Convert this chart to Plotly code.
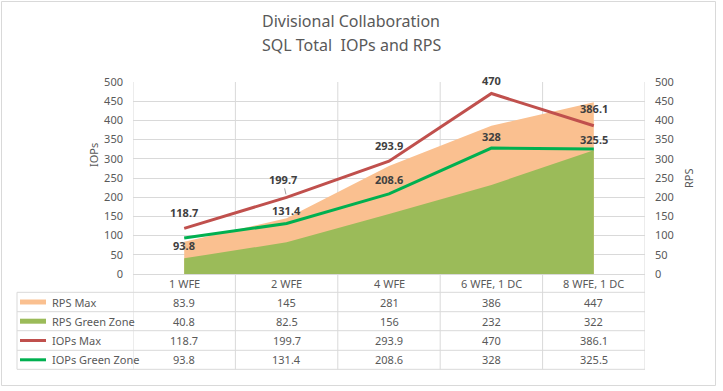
import plotly.graph_objects as go

categories = ["1 WFE", "2 WFE", "4 WFE", "6 WFE, 1 DC", "8 WFE, 1 DC"]
rps_max = [83.9, 145, 281, 386, 447]
rps_green = [40.8, 82.5, 156, 232, 322]
iops_max = [118.7, 199.7, 293.9, 470, 386.1]
iops_green = [93.8, 131.4, 208.6, 328, 325.5]
y_ticks = [0, 50, 100, 150, 200, 250, 300, 350, 400, 450, 500]
title_lines = ["Divisional Collaboration", "SQL Total  IOPs and RPS"]

W, H = 723, 391
L, R, T, B = 133, 645, 82, 274
FONT = "Noto Sans"
GRID = "#d9d9d9"
TXT = "#595959"

def xp(px):
    return (px - L) / (R - L)

def yp(py):
    return (B - py) / (B - T)

xs = list(range(len(categories)))

C_ORANGE = "#FAC090"
C_GREENA = "#9BBB59"
C_RED = "#C0504D"
C_GREENL = "#00B050"

fig = go.Figure()
# RPS areas (both axes share 0-500)
fig.add_trace(go.Scatter(x=xs, y=rps_max, yaxis="y", mode="lines", fill="tozeroy",
                         line=dict(width=0, color=C_ORANGE), fillcolor=C_ORANGE,
                         name="RPS Max", hoverinfo="skip"))
fig.add_trace(go.Scatter(x=xs, y=rps_green, yaxis="y", mode="lines", fill="tozeroy",
                         line=dict(width=0, color=C_GREENA), fillcolor=C_GREENA,
                         name="RPS Green Zone", hoverinfo="skip"))
# IOPs lines drawn on overlay so they sit above the areas
fig.add_trace(go.Scatter(x=xs, y=iops_max, yaxis="y2", mode="lines",
                         line=dict(width=3, color=C_RED), name="IOPs Max"))
fig.add_trace(go.Scatter(x=xs, y=iops_green, yaxis="y2", mode="lines",
                         line=dict(width=3, color=C_GREENL), name="IOPs Green Zone"))

annotations = []
shapes = []

# title
for k, (t, py) in enumerate(zip(title_lines, [21, 45])):
    annotations.append(dict(x=xp(351), y=yp(py), xref="paper", yref="paper", text=t,
                            showarrow=False, xanchor="center", yanchor="middle",
                            font=dict(family=FONT, size=16, color=TXT)))

# data labels
max_shift = [16, 18, 16, 13, 17]
green_shift = [-8, 13, 14, 12, 10]
for i, v in enumerate(iops_max):
    a = dict(x=i, y=v, xref="x", yref="y2", text=f"<b>{v:g}</b>", showarrow=False,
             font=dict(family=FONT, size=11, color="#404040"), yshift=max_shift[i])
    if i == 1:
        a.update(showarrow=True, arrowhead=0, arrowwidth=1, arrowcolor="#a6a6a6",
                 ax=-4, ay=-18, standoff=3, yshift=0)
    annotations.append(a)
for i, v in enumerate(iops_green):
    annotations.append(dict(x=i, y=v, xref="x", yref="y2", text=f"<b>{v:g}</b>", showarrow=False,
                            font=dict(family=FONT, size=11, color="#404040"),
                            yshift=green_shift[i]))

# category header
for i, c in enumerate(categories):
    annotations.append(dict(x=i, y=yp(283), xref="x", yref="paper", text=c, showarrow=False,
                            font=dict(family=FONT, size=11, color=TXT), yanchor="middle"))

# table
row_lines = [292.3, 311.7, 330.7, 350.3, 369.3]
rows = [("RPS Max", rps_max, C_ORANGE, "rect"),
        ("RPS Green Zone", rps_green, C_GREENA, "rect"),
        ("IOPs Max", iops_max, C_RED, "line"),
        ("IOPs Green Zone", iops_green, C_GREENL, "line")]
for r, (name, vals, col, kind) in enumerate(rows):
    cy = (row_lines[r] + row_lines[r + 1]) / 2
    for i, v in enumerate(vals):
        annotations.append(dict(x=i, y=yp(cy), xref="x", yref="paper", text=f"{v:g}",
                                showarrow=False, font=dict(family=FONT, size=11, color=TXT),
                                yanchor="middle"))
    annotations.append(dict(x=xp(50), y=yp(cy), xref="paper", yref="paper", text=name,
                            showarrow=False, xanchor="left", yanchor="middle",
                            font=dict(family=FONT, size=11, color=TXT)))
    if kind == "rect":
        shapes.append(dict(type="rect", xref="paper", yref="paper", x0=xp(20), x1=xp(46),
                           y0=yp(cy + 2.5), y1=yp(cy - 2.5), fillcolor=col, line=dict(width=0)))
    else:
        shapes.append(dict(type="line", xref="paper", yref="paper", x0=xp(20), x1=xp(46),
                           y0=yp(cy), y1=yp(cy), line=dict(color=col, width=3)))

for py in row_lines:
    shapes.append(dict(type="line", xref="paper", yref="paper", x0=xp(17), x1=1,
                       y0=yp(py), y1=yp(py), line=dict(color=GRID, width=1), layer="below"))
shapes.append(dict(type="line", xref="paper", yref="paper", x0=xp(17), x1=xp(17),
                   y0=yp(292.3), y1=yp(369.3), line=dict(color=GRID, width=1)))
for k in range(len(categories) + 1):
    shapes.append(dict(type="line", xref="x", yref="paper", x0=k - 0.5, x1=k - 0.5,
                       y0=yp(369.3), y1=1, line=dict(color=GRID, width=1), layer="below"))
# outer border
shapes.append(dict(type="rect", xref="paper", yref="paper", x0=xp(1.5), x1=xp(715.5),
                   y0=yp(385.5), y1=yp(1.5), line=dict(color=GRID, width=1)))

# axis titles
annotations.append(dict(x=xp(93), y=yp(155), xref="paper", yref="paper", text="IOPs",
                        showarrow=False, textangle=-90, xanchor="center", yanchor="middle",
                        font=dict(family=FONT, size=11, color=TXT)))
annotations.append(dict(x=xp(688), y=yp(178), xref="paper", yref="paper", text="RPS",
                        showarrow=False, textangle=-90, xanchor="center", yanchor="middle",
                        font=dict(family=FONT, size=11, color=TXT)))

fig.update_layout(
    width=W, height=H,
    margin=dict(l=L, r=W - R, t=T, b=H - B, pad=0),
    paper_bgcolor="white", plot_bgcolor="white",
    showlegend=False,
    xaxis=dict(range=[-0.5, len(categories) - 0.5], showgrid=False, zeroline=False,
               showticklabels=False, showline=False, fixedrange=True),
    yaxis=dict(range=[0, 500], tickvals=y_ticks, showgrid=True, gridcolor=GRID, gridwidth=1,
               zeroline=True, zerolinecolor=GRID, zerolinewidth=1, showline=False,
               ticks="", ticklabelstandoff=9,
               tickfont=dict(family=FONT, size=11, color=TXT)),
    yaxis2=dict(range=[0, 500], tickvals=y_ticks, overlaying="y", side="right",
                showgrid=False, zeroline=False, showline=False, ticks="", ticklabelstandoff=9,
                tickfont=dict(family=FONT, size=11, color=TXT)),
    annotations=annotations,
    shapes=shapes,
)

fig.write_html("out.html", config={"displayModeBar": False},
               post_script="document.body.style.margin='0px';")
